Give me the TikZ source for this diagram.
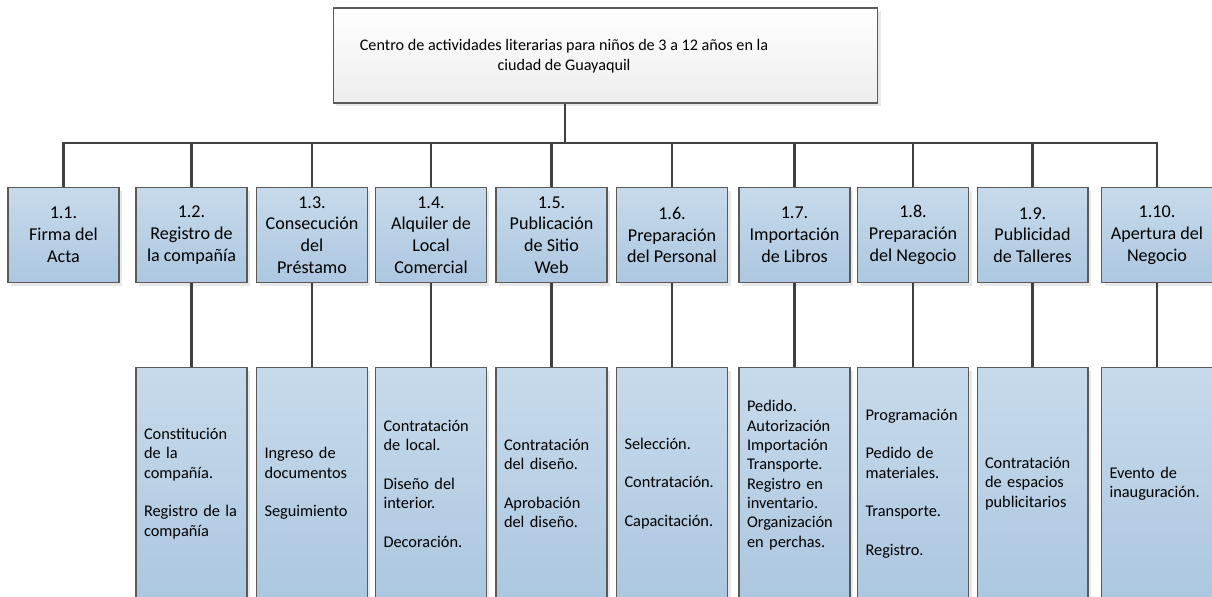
\documentclass[tikz,border=0pt]{standalone}
\usepackage{fontspec}
\setmainfont{Carlito}
\usetikzlibrary{shadows}

\definecolor{boxtop}{RGB}{199,218,235}
\definecolor{boxbottom}{RGB}{172,199,224}
\definecolor{framegray}{RGB}{90,90,90}
\definecolor{linegray}{RGB}{64,64,64}

\tikzset{
    wbsbox/.style = {draw = framegray, line width = 0.6pt,
        top color = boxtop, bottom color = boxbottom,
        drop shadow = {shadow xshift = 0.06cm, shadow yshift = -0.06cm,
            fill = black!15, opacity = 0.6}},
    rootbox/.style = {wbsbox, top color = white, bottom color = black!7,
        minimum width = 10.9cm, minimum height = 1.9cm},
    taskbox/.style = {wbsbox, anchor = north, inner sep = 0pt,
        minimum width = 2.22cm, minimum height = 1.9cm, align = center,
        font = \fontsize{10.3}{12.4}\selectfont},
    subbox/.style = {wbsbox, anchor = north, minimum height = 4.64cm,
        text width = 1.9cm, inner xsep = 0.16cm, inner ysep = 0pt,
        align = left, font = \fontsize{9.3}{11}\selectfont},
    link/.style = {draw = linegray, line width = 1.25pt},
}

\begin{document}
\begin{tikzpicture}[x = 0.02cm, y = -0.02cm]
        \clip (0, 0) rectangle (1212, 597);

        % top of the tree
        \node [rootbox] (root) at (605.5, 55.5) {};
        \node [align = center, font = \fontsize{9.2}{11.4}\selectfont] (roottext) at (564, 56)
            {Centro de actividades literarias para niños de 3 a 12 años en la\\ciudad de Guayaquil};
        \coordinate (bus) at (565, 143);

        % first level
        \foreach \i/\x/\txt in {
            1/63.5/{1.1.\\Firma del\\Acta},
            2/191.5/{1.2.\\Registro de\\la compañía},
            3/312/{1.3.\\Consecución\\del\\Préstamo},
            4/431/{1.4.\\Alquiler de\\Local\\Comercial},
            5/551.5/{1.5.\\Publicación\\de Sitio\\Web},
            6/672/{1.6.\\Preparación\\del Personal},
            7/794.5/{1.7.\\Importación\\de Libros},
            8/913/{1.8.\\Preparación\\del Negocio},
            9/1032.5/{1.9.\\Publicidad\\de Talleres},
            10/1157/{1.10.\\Apertura del\\Negocio}} {
            \node [taskbox] (t\i) at (\x, 187) {\txt};
        }

        % second level
        \foreach \i/\x/\txt in {
            2/191.5/{Constitución\\de la\\compañía.\\[\baselineskip]Registro de la\\compañía},
            3/312/{Ingreso de\\documentos\\[\baselineskip]Seguimiento},
            4/431/{Contratación\\de local.\\[\baselineskip]Diseño del\\interior.\\[\baselineskip]Decoración.},
            5/551.5/{Contratación\\del diseño.\\[\baselineskip]Aprobación\\del diseño.},
            6/672/{Selección.\\[\baselineskip]Contratación.\\[\baselineskip]Capacitación.},
            7/794.5/{Pedido.\\Autorización\\Importación\\Transporte.\\Registro en\\inventario.\\Organización\\en perchas.\\\mbox{}},
            8/913/{Programación\\[\baselineskip]Pedido de\\materiales.\\[\baselineskip]Transporte.\\[\baselineskip]Registro.},
            9/1032.5/{Contratación\\de espacios\\publicitarios},
            10/1157/{Evento de\\inauguración.}} {
            \node [subbox] (s\i) at (\x, 367) {\txt};
        }

        \draw [link] (root.south -| bus) -- (bus);
        \draw [link] (t1.north) -- (t1.north |- bus) -- (t10.north |- bus) -- (t10.north);
        \foreach \i in {2, ..., 9} {
            \draw [link] (t\i.north) -- (t\i.north |- bus);
        }
        \foreach \i in {2, ..., 10} {
            \draw [link] (t\i.south) -- (s\i.north);
        }
\end{tikzpicture}
\end{document}
